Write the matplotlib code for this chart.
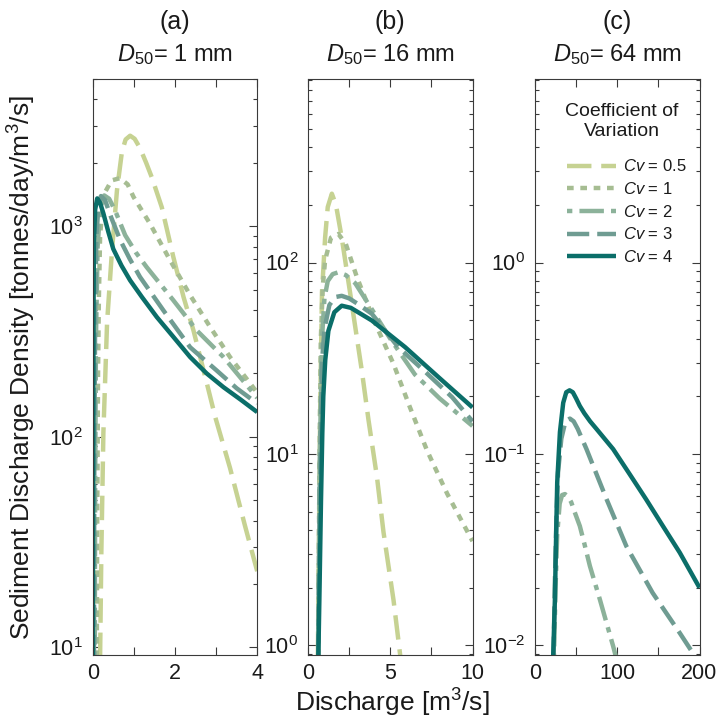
import matplotlib
matplotlib.use("Agg")
import matplotlib.pyplot as plt
from matplotlib.ticker import LogLocator, NullFormatter, FixedLocator

plt.rcParams.update({
    "font.family": "Liberation Sans",
    "mathtext.fontset": "custom",
    "mathtext.rm": "Liberation Sans",
    "mathtext.it": "Liberation Sans:italic",
    "mathtext.bf": "Liberation Sans:bold",
    "text.color": "#1a1a1a",
    "axes.edgecolor": "#3a3a3a",
    "xtick.color": "#3a3a3a",
    "ytick.color": "#3a3a3a",
    "xtick.labelcolor": "#1a1a1a",
    "ytick.labelcolor": "#1a1a1a",
})

# ---- data (discharge in m3/s, density in tonnes/day/m3/s) ----
CV_LABELS = ["0.5", "1", "2", "3", "4"]

# panel (a) D50 = 1 mm
A_Q_05 = [0.18, 0.21, 0.26, 0.35, 0.47, 0.59, 0.71, 0.80, 0.91, 1.02, 1.15, 1.30, 1.44, 1.68, 1.96, 2.21, 2.45, 2.78, 2.98, 3.34, 3.70, 4.0]
A_S_05 = [9.0, 28, 105, 350, 770, 1480, 2250, 2580, 2690, 2600, 2350, 2000, 1700, 1230, 715, 460, 320, 178, 124, 71, 38, 23]
A_Q_1 = [0.10, 0.11, 0.13, 0.15, 0.18, 0.24, 0.30, 0.46, 0.66, 0.85, 0.99, 1.39, 1.88, 2.37, 2.86, 3.34, 4.0]
A_S_1 = [9.0, 40, 200, 450, 900, 1250, 1450, 1650, 1690, 1580, 1380, 1030, 690, 470, 331, 239, 162]
A_Q_2 = [0.05, 0.06, 0.08, 0.12, 0.18, 0.28, 0.40, 0.55, 0.79, 1.05, 1.31, 1.96, 2.53, 3.18, 4.0]
A_S_2 = [9.0, 60, 300, 800, 1200, 1400, 1350, 1180, 906, 750, 640, 445, 320, 239, 153]
A_Q_3 = [0.03, 0.04, 0.06, 0.09, 0.14, 0.20, 0.30, 0.45, 0.67, 0.90, 1.15, 1.72, 2.37, 3.02, 3.50, 4.0]
A_S_3 = [9.0, 80, 400, 900, 1250, 1390, 1330, 1100, 858, 700, 574, 398, 266, 206, 170, 144]
A_Q_4 = [0.003, 0.01, 0.02, 0.03, 0.06, 0.11, 0.18, 0.26, 0.38, 0.50, 0.70, 0.91, 1.20, 1.56, 1.95, 2.37, 2.77, 3.18, 3.60, 4.0]
A_S_4 = [9.0, 60, 400, 850, 1200, 1355, 1290, 1150, 940, 780, 650, 553, 460, 370, 300, 239, 200, 172, 150, 131]

# panel (b) D50 = 16 mm
B_Q_05 = [0.60, 0.68, 0.75, 0.85, 1.04, 1.20, 1.45, 1.70, 2.05, 2.66, 3.27, 3.68, 4.19, 4.59, 5.20, 5.61]
B_S_05 = [0.88, 5, 20, 70, 135, 195, 229, 200, 135, 61, 27.3, 15, 7.6, 3.9, 1.72, 0.88]
B_Q_1 = [0.62, 0.70, 0.78, 0.90, 1.04, 1.40, 1.85, 2.30, 2.97, 4.00, 5.20, 6.20, 7.24, 8.46, 10.0]
B_S_1 = [0.88, 10, 40, 75, 103, 135, 141, 125, 84, 50, 29.5, 17.5, 10.4, 6.2, 3.5]
B_Q_2 = [0.62, 0.72, 0.85, 1.00, 1.20, 1.50, 1.85, 2.30, 2.87, 3.88, 5.00, 6.50, 8.00, 10.0]
B_S_2 = [0.88, 10, 40, 65, 80, 87, 89, 86, 78, 57, 40, 26, 19.5, 14]
B_Q_3 = [0.62, 0.72, 0.85, 1.00, 1.30, 1.65, 2.05, 2.50, 3.00, 3.88, 5.50, 7.10, 8.76, 10.0]
B_S_3 = [0.88, 8, 30, 45, 60, 66, 67, 65, 61, 54, 36, 27, 19.8, 14.8]
B_Q_4 = [0.63, 0.69, 0.79, 0.87, 0.93, 1.05, 1.24, 1.60, 2.05, 2.60, 3.88, 5.91, 7.95, 10.0]
B_S_4 = [0.88, 1.72, 5.7, 12.8, 20, 31, 44, 55, 59.5, 58, 49.8, 36.1, 25.1, 17.5]

# panel (c) D50 = 64 mm (Cv = 0.5 and 1 stay below the plotted range)
C_Q_05, C_S_05 = [], []
C_Q_1, C_S_1 = [], []
C_Q_2 = [23, 25, 27, 30, 33, 36.4, 40, 44, 48, 54.5, 60, 66.7, 78.8, 95, 99]
C_S_2 = [0.0085, 0.02, 0.038, 0.055, 0.061, 0.0617, 0.060, 0.056, 0.05, 0.042, 0.034, 0.026, 0.0174, 0.0099, 0.0085]
C_Q_3 = [22.5, 24, 26, 28, 32, 37, 42.4, 47, 52, 62.6, 75, 87, 111, 143, 176, 192, 196]
C_S_3 = [0.0085, 0.02, 0.045, 0.08, 0.12, 0.148, 0.153, 0.148, 0.135, 0.106, 0.078, 0.058, 0.033, 0.0188, 0.0116, 0.0091, 0.0085]
C_Q_4 = [22, 24.2, 25.5, 27, 30.3, 34.3, 38, 42, 46, 50, 54.5, 60, 67, 74.8, 95, 115, 135, 155.5, 176, 200]
C_S_4 = [0.0085, 0.0174, 0.0344, 0.071, 0.13, 0.185, 0.21, 0.215, 0.21, 0.195, 0.178, 0.163, 0.148, 0.135, 0.106, 0.0785, 0.058, 0.042, 0.0305, 0.02]

# ---- styles ----
COLORS = ["#c6d292", "#a6bd92", "#8cb29a", "#6f9c92", "#0b6e69"]
DASHES = [(5.5, 2.2), (1.5, 1.5), (1.2, 1.6, 5.5, 1.6), (5.0, 1.8), None]
LW = 3.2

panels = [
    dict(tag="(a)", d50="1", xlim=(0, 4), ylim=(9.2, 5000), xmaj=[0, 2, 4], xmin=[1, 3],
         data=[(A_Q_05, A_S_05), (A_Q_1, A_S_1), (A_Q_2, A_S_2), (A_Q_3, A_S_3), (A_Q_4, A_S_4)]),
    dict(tag="(b)", d50="16", xlim=(0, 10), ylim=(0.89, 910), xmaj=[0, 5, 10], xmin=[2.5, 7.5],
         data=[(B_Q_05, B_S_05), (B_Q_1, B_S_1), (B_Q_2, B_S_2), (B_Q_3, B_S_3), (B_Q_4, B_S_4)]),
    dict(tag="(c)", d50="64", xlim=(0, 200), ylim=(0.0089, 9.1), xmaj=[0, 100, 200], xmin=[50, 150],
         data=[(C_Q_05, C_S_05), (C_Q_1, C_S_1), (C_Q_2, C_S_2), (C_Q_3, C_S_3), (C_Q_4, C_S_4)]),
]

W = 723.0
lefts = [92.7, 308.0, 535.0]
width = 164.5
top_px, bot_px = 79.0, 655.0
ax_h = bot_px - top_px

fig = plt.figure(figsize=(7.23, 7.23), dpi=100)

for p, left in zip(panels, lefts):
    ax = fig.add_axes([left / W, 1 - bot_px / W, width / W, ax_h / W])
    handles = []
    for (q, s), col, dash, lab in zip(p["data"], COLORS, DASHES, CV_LABELS):
        line, = ax.plot(q, s, color=col, lw=LW, label=r"$Cv$ = " + lab,
                        solid_capstyle="butt", dash_capstyle="butt")
        if dash is not None:
            line.set_dashes(dash)
        handles.append(line)
    ax.set_yscale("log")
    ax.set_xlim(*p["xlim"])
    ax.set_ylim(*p["ylim"])
    ax.xaxis.set_major_locator(FixedLocator(p["xmaj"]))
    ax.xaxis.set_minor_locator(FixedLocator(p["xmin"]))
    ax.yaxis.set_major_locator(LogLocator(base=10, numticks=10))
    ax.yaxis.set_minor_locator(LogLocator(base=10, subs=range(2, 10), numticks=20))
    ax.yaxis.set_minor_formatter(NullFormatter())
    ax.tick_params(which="both", direction="in", top=True, right=True, width=0.8)
    ax.tick_params(axis="x", which="both", length=5.5, labelsize=15.5, pad=6)
    ax.tick_params(axis="y", which="major", length=5.5, labelsize=15.5, pad=7)
    ax.tick_params(axis="y", which="minor", length=3.2)
    for sp in ax.spines.values():
        sp.set_linewidth(0.8)
    ax.text(0.5, (bot_px - 22) / ax_h, p["tag"], transform=ax.transAxes,
            ha="center", va="center", fontsize=18)
    ax.text(0.5, (bot_px - 55) / ax_h, r"$D_{50}$= " + p["d50"] + " mm", transform=ax.transAxes,
            ha="center", va="center", fontsize=17)
    if p["tag"] == "(c)":
        ax.text((622 - left) / width, (bot_px - 121.5) / ax_h, "Coefficient of\nVariation",
                transform=ax.transAxes, ha="center", va="center", fontsize=14,
                linespacing=1.2, multialignment="center")
        ax.legend(handles=handles, loc="upper center", bbox_to_anchor=(0.56, (bot_px - 145) / ax_h),
                  frameon=False, fontsize=12, handlelength=2.9, handletextpad=0.45,
                  labelspacing=0.4, borderpad=0.3)

fig.text(22 / W, 1 - 368 / W, "Sediment Discharge Density [tonnes/day/m$^3$/s]",
         rotation=90, ha="center", va="center", fontsize=19)
fig.text(392 / W, 1 - 703 / W, "Discharge [m$^3$/s]", ha="center", va="center", fontsize=19)

fig.savefig("out.png", dpi=100)
